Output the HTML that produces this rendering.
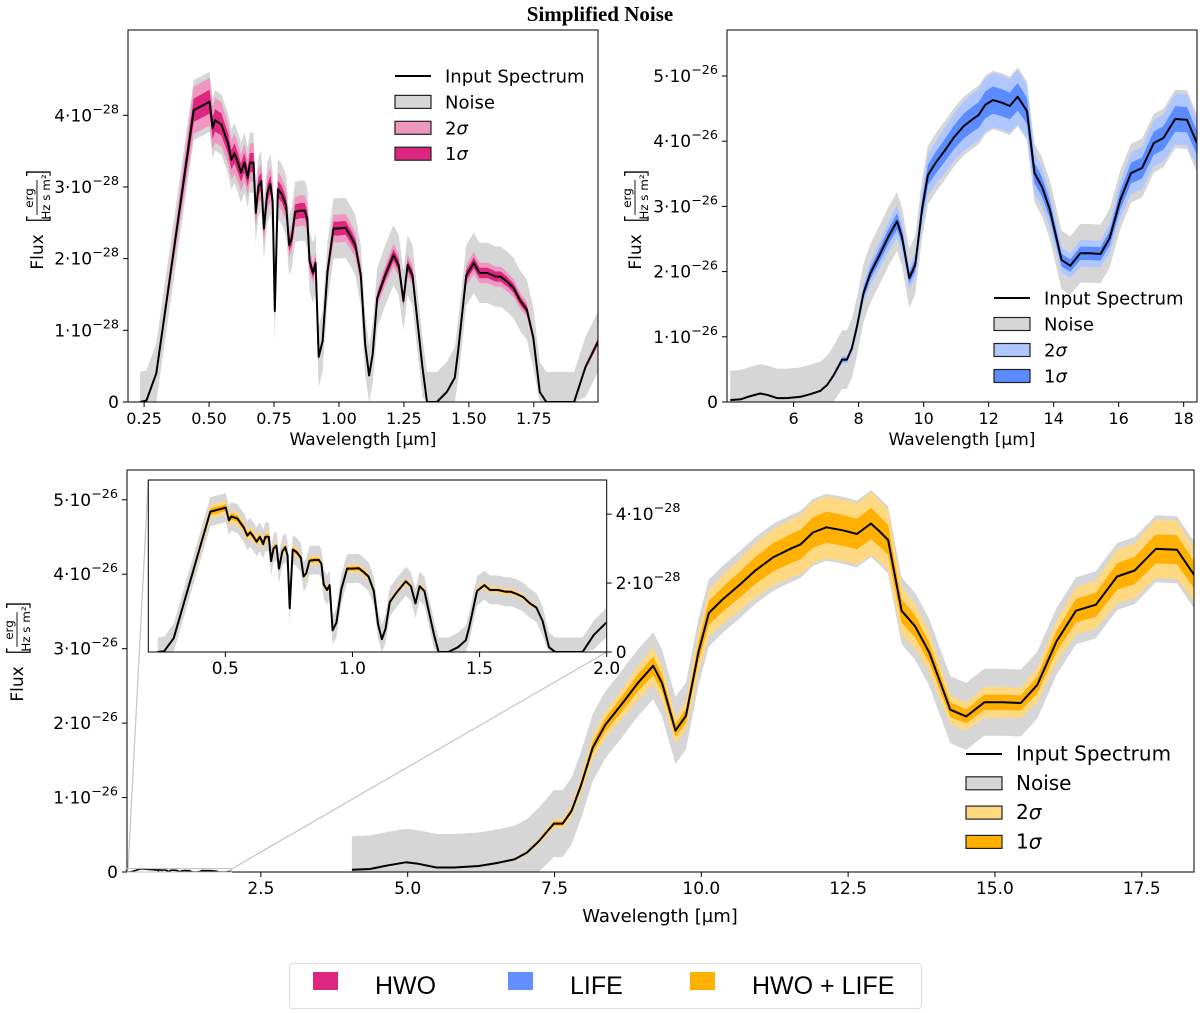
<!DOCTYPE html>
<html><head><meta charset="utf-8"><style>
html,body{margin:0;padding:0;background:#fff;}
svg{display:block;font-family:"DejaVu Sans","Liberation Sans",sans-serif;}
</style></head><body>
<svg id="fig" width="1200" height="1013" viewBox="0 0 1200 1013" xmlns="http://www.w3.org/2000/svg">
<text x="600" y="21" text-anchor="middle" font-family="Liberation Serif, serif" font-weight="bold" font-size="21">Simplified Noise</text>
</svg>
<script>
// HWO spectrum (wavelength in µm, flux in 1e-28 erg/Hz/s/m2)
const hwoWl = [0.234,0.259,0.297,0.441,0.502,0.514,0.523,0.536,0.548,0.561,0.573,0.586,0.598,0.611,0.623,0.636,0.649,0.657,0.671,0.680,0.690,0.701,0.711,0.724,0.736,0.745,0.753,0.765,0.780,0.797,0.808,0.818,0.831,0.850,0.868,0.878,0.887,0.900,0.910,0.922,0.937,0.956,0.979,0.998,1.025,1.044,1.063,1.084,1.101,1.116,1.130,1.147,1.176,1.210,1.230,1.248,1.264,1.283,1.302,1.321,1.339,1.377,1.415,1.446,1.459,1.490,1.519,1.541,1.572,1.603,1.622,1.647,1.672,1.698,1.723,1.748,1.773,1.798,1.905,1.949,1.998];
const hwoFlux = [0.0,0.02,0.40,4.07,4.19,3.82,3.93,3.90,3.87,3.73,3.61,3.38,3.47,3.34,3.20,3.34,3.13,3.34,3.34,2.64,3.01,3.08,2.42,2.92,3.04,2.79,1.27,2.97,2.90,2.74,2.19,2.28,2.65,2.67,2.67,2.56,1.96,1.80,1.94,0.63,0.85,1.82,2.42,2.42,2.43,2.32,2.19,1.77,0.80,0.37,0.67,1.45,1.75,2.05,1.91,1.41,1.91,1.77,1.13,0.49,0.0,0.0,0.14,0.34,0.72,1.77,1.94,1.80,1.80,1.75,1.75,1.68,1.59,1.41,1.29,0.90,0.14,0.0,0.0,0.49,0.85];
const hwoNoise = [0.42];
const hwoSigmaFrac = [0.04];
// LIFE spectrum (wavelength in µm, flux in 1e-26 erg/Hz/s/m2)
const lifeWl = [4.05,4.36,4.67,4.97,5.18,5.49,5.79,6.21,6.51,6.82,7.03,7.23,7.49,7.64,7.79,7.95,8.15,8.36,8.67,8.92,9.18,9.33,9.56,9.74,9.95,10.13,10.36,10.67,10.92,11.23,11.54,11.69,11.90,12.13,12.41,12.65,12.89,13.03,13.18,13.41,13.64,13.88,14.05,14.24,14.51,14.82,15.13,15.44,15.72,16.05,16.38,16.72,17.08,17.38,17.74,18.10,18.41];
const lifeFlux = [0.03,0.04,0.09,0.13,0.11,0.06,0.06,0.08,0.12,0.17,0.26,0.41,0.65,0.65,0.82,1.16,1.67,1.97,2.28,2.54,2.77,2.54,1.90,2.10,2.95,3.48,3.66,3.87,4.05,4.23,4.35,4.40,4.56,4.63,4.59,4.54,4.68,4.58,4.46,3.51,3.30,2.95,2.59,2.18,2.09,2.28,2.28,2.27,2.51,3.10,3.51,3.59,3.97,4.05,4.34,4.33,3.97];
const lifeNoise = [0.45];
const lifeSigmaFrac = [0.045];
// ticks
const tlXTicks = [0.25,0.50,0.75,1.00,1.25,1.50,1.75];
const tlXLabels = ["0.25","0.50","0.75","1.00","1.25","1.50","1.75"];
const yTicks = [0,1,2,3,4];
const trXTicks = [6,8,10,12,14,16,18];
const trYTicks = [0,1,2,3,4,5];
const btXTicks = [2.5,5.0,7.5,10.0,12.5,15.0,17.5];
const btXLabels = ["2.5","5.0","7.5","10.0","12.5","15.0","17.5"];
const btYTicks = [0,1,2,3,4,5];
const inXTicks = [0.5,1.0,1.5,2.0];
const inXLabels = ["0.5","1.0","1.5","2.0"];
const inYTicks = [0,2,4];

const NS = "http://www.w3.org/2000/svg";
const svg = document.getElementById('fig');
function mk(tag, attrs, parent){const e=document.createElementNS(NS,tag);for(const k in attrs)e.setAttribute(k,attrs[k]);(parent||svg).appendChild(e);return e;}

const COL = {
  pink:{s1:'#dc267f',s2:'#ee97c0'},
  blue:{s1:'#5b8cff',s2:'#b0c6ff'},
  orange:{s1:'#ffb000',s2:'#ffd882'}
};
let clipN=0;
function makeAxes(name, b, d){
  const g = mk('g',{});
  
  
  const id='clip'+(clipN++);
  const cp = mk('clipPath',{id:id},g);
  mk('rect',{x:b.x0,y:b.y0,width:b.x1-b.x0,height:b.y1-b.y0},cp);
  const sx = v => b.x0 + (v-d.xmin)/(d.xmax-d.xmin)*(b.x1-b.x0);
  const sy = v => b.y1 - (v-d.ymin)/(d.ymax-d.ymin)*(b.y1-b.y0);
  const plot = mk('g',{'clip-path':'url(#'+id+')'},g);
  return {g,plot,sx,sy,b};
}
function band(ax, wl, fl, wfn, color, name){
  let up=[],lo=[];
  for(let i=0;i<wl.length;i++){const w=wfn(fl[i]);up.push(ax.sx(wl[i]).toFixed(1)+','+ax.sy(fl[i]+w).toFixed(1));lo.push(ax.sx(wl[i]).toFixed(1)+','+ax.sy(Math.max(0,fl[i]-w)).toFixed(1));}
  const p = mk('polygon',{points:up.concat(lo.reverse()).join(' '),fill:color},ax.plot);
  
  
}
function line(ax, wl, fl, name, sw){
  const pts = wl.map((w,i)=>ax.sx(w).toFixed(1)+','+ax.sy(fl[i]).toFixed(1)).join(' ');
  const p = mk('polyline',{points:pts,fill:'none',stroke:'#000','stroke-width':sw||2,'stroke-linejoin':'round'},ax.plot);
  
  
}
function series(ax, wl, fl, noise, frac, col, prefix, sw){
  band(ax, wl, fl, v=>noise, '#d6d6d6', prefix+'-noise-band');
  band(ax, wl, fl, v=>2*frac*v, col.s2, prefix+'-2sigma-band');
  band(ax, wl, fl, v=>frac*v, col.s1, prefix+'-1sigma-band');
  line(ax, wl, fl, prefix+'-input-spectrum', sw);
}
function frame(ax){
  const r = mk('rect',{x:ax.b.x0,y:ax.b.y0,width:ax.b.x1-ax.b.x0,height:ax.b.y1-ax.b.y0,fill:'none',stroke:'#000','stroke-width':1},ax.g);
  
  
}
function xticks(ax, ticks, labels, fs, name){
  ticks.forEach((t,i)=>{
    const x=ax.sx(t);
    mk('line',{x1:x,x2:x,y1:ax.b.y1,y2:ax.b.y1+5,stroke:'#000'},ax.g);
    const tx = mk('text',{x:x,y:ax.b.y1+22,'text-anchor':'middle','font-size':fs},ax.g);
    tx.textContent = labels[i];
    
    
  });
}
function yticks(ax, ticks, exp, fs, right, name){
  ticks.forEach(t=>{
    const y=ax.sy(t);
    const xb = right?ax.b.x1:ax.b.x0;
    mk('line',{x1:xb,x2:right?xb+5:xb-5,y1:y,y2:y,stroke:'#000'},ax.g);
    const tx = mk('text',{x:right?xb+9:xb-9,y:y+6,'text-anchor':right?'start':'end','font-size':fs},ax.g);
    
    
    if(t===0){tx.textContent='0';return;}
    const a=mk('tspan',{},tx);a.textContent=t+'·10';
    const b=mk('tspan',{dy:-8,'font-size':fs*0.75},tx);b.textContent='−'+exp;
  });
}
function xlabel(ax, x, y, fs){
  const t=mk('text',{x:x,y:y,'text-anchor':'middle','font-size':fs},ax.g);
  t.textContent='Wavelength [µm]';
  
  
}
function ylabel(ax, cx, cy, fs){
  const g=mk('g',{transform:'translate('+cx+','+cy+') rotate(-90)'},ax.g);
  
  
  const t=mk('text',{x:-24,y:7,'text-anchor':'middle','font-size':fs},g);t.textContent='Flux';
  const l=mk('text',{x:4,y:11,'font-size':fs*1.6,'font-weight':'lighter'},g);l.textContent='[';
  const n=mk('text',{x:30,y:-3,'text-anchor':'middle','font-size':fs*0.7},g);n.textContent='erg';
  mk('line',{x1:13,x2:48,y1:1,y2:1,stroke:'#000','stroke-width':0.9},g);
  const dd=mk('text',{x:31,y:14,'text-anchor':'middle','font-size':fs*0.7},g);dd.textContent='Hz s m²';
  const r=mk('text',{x:49,y:11,'font-size':fs*1.6,'font-weight':'lighter'},g);r.textContent=']';
}
function legend(ax, x, y0, dy, fs, col, name){
  const g=mk('g',{},ax.g);
  
  
  const items=[['Input Spectrum',null],['Noise','#d6d6d6'],['2σ',col.s2],['1σ',col.s1]];
  items.forEach((it,i)=>{
    const y=y0+i*dy;
    if(!it[1]) mk('line',{x1:x,x2:x+36,y1:y,y2:y,stroke:'#000','stroke-width':2},g);
    else mk('rect',{x:x,y:y-6.5,width:36,height:13,fill:it[1],stroke:'#222','stroke-width':1.2},g);
    const t=mk('text',{x:x+50,y:y+6.5,'font-size':fs},g);
    if(it[0].indexOf('σ')>0){const a=mk('tspan',{},t);a.textContent=it[0][0];const b=mk('tspan',{'font-style':'italic'},t);b.textContent='σ';}
    else t.textContent=it[0];
  });
}

// Top-left: HWO
const A1 = makeAxes('hwo-panel',{x0:128,x1:598,y0:30,y1:402},{xmin:0.188,xmax:1.997,ymin:0,ymax:5.19});
series(A1, hwoWl, hwoFlux, hwoNoise[0], hwoSigmaFrac[0], COL.pink, 'hwo', 2);
frame(A1);
xticks(A1, tlXTicks, tlXLabels, 16, 'x-tick-label');
yticks(A1, yTicks, '28', 17, false, 'y-tick-label');
xlabel(A1, 363, 445, 17);
ylabel(A1, 36, 228, 17);
legend(A1, 395, 76, 25.9, 18, COL.pink, 'hwo-legend');

// Top-right: LIFE
const A2 = makeAxes('life-panel',{x0:727,x1:1197,y0:30,y1:402},{xmin:3.95,xmax:18.41,ymin:0,ymax:5.705});
series(A2, lifeWl, lifeFlux, lifeNoise[0], lifeSigmaFrac[0], COL.blue, 'life', 2);
frame(A2);
xticks(A2, trXTicks, trXTicks.map(String), 16, 'x-tick-label');
yticks(A2, trYTicks, '26', 17, false, 'y-tick-label');
xlabel(A2, 962, 445, 17);
ylabel(A2, 634, 228, 17);
legend(A2, 994, 298, 26, 18, COL.blue, 'life-legend');

// Bottom: combined
const A3 = makeAxes('combined-panel',{x0:127,x1:1194,y0:470,y1:872},{xmin:0.22,xmax:18.39,ymin:0,ymax:5.40});
const hwoScaled = hwoFlux.map(v=>v/100);
series(A3, hwoWl, hwoScaled, hwoNoise[0]/100, hwoSigmaFrac[0], COL.orange, 'combined-hwo', 1.6);
series(A3, lifeWl, lifeFlux, lifeNoise[0], lifeSigmaFrac[0], COL.orange, 'combined-life', 2);
frame(A3);
// inset indicator
const ir = mk('rect',{x:A3.sx(0.2),y:A3.sy(0.045),width:A3.sx(2.0)-A3.sx(0.2),height:A3.sy(0)-A3.sy(0.045),fill:'none',stroke:'#bbb','stroke-width':1},A3.g);


mk('line',{x1:128,y1:869,x2:148.3,y2:480,stroke:'#c4c4c4','stroke-width':1.2},A3.g);
mk('line',{x1:A3.sx(2.0),y1:869,x2:606.7,y2:652,stroke:'#c4c4c4','stroke-width':1.2},A3.g);
xticks(A3, btXTicks, btXLabels, 17, 'x-tick-label');
yticks(A3, btYTicks, '26', 17, false, 'y-tick-label');
xlabel(A3, 660, 922, 18);
ylabel(A3, 16, 660, 17);
legend(A3, 966, 754, 29.3, 20, COL.orange, 'combined-legend');

// Inset
const A4 = makeAxes('inset-panel',{x0:148.3,x1:606.7,y0:480,y1:652},{xmin:0.197,xmax:2.0,ymin:0,ymax:4.99});
mk('rect',{x:148.3,y:480,width:458.4,height:172,fill:'#fff'},A4.plot);
series(A4, hwoWl, hwoFlux, hwoNoise[0], hwoSigmaFrac[0]*0.6, COL.orange, 'inset-hwo', 2);
frame(A4);
xticks(A4, inXTicks, inXLabels, 17, 'inset-x-tick-label');
yticks(A4, inYTicks, '28', 17, true, 'inset-y-tick-label');

// Bottom legend
const L = mk('g',{});


mk('rect',{x:289.5,y:963.5,width:632,height:45,rx:3,fill:'#fff',stroke:'#ddd'},L);
[['HWO','#dc267f',313,375],['LIFE','#648fff',508,570],['HWO + LIFE','#ffb000',690,752]].forEach(it=>{
  const s=mk('rect',{x:it[2],y:972,width:25,height:18,fill:it[1]},L);
  
  
  const t=mk('text',{x:it[3],y:994,'font-size':25,'font-family':'Liberation Sans, sans-serif'},L);
  t.textContent=it[0];
  
  
});
</script>
</body></html>
